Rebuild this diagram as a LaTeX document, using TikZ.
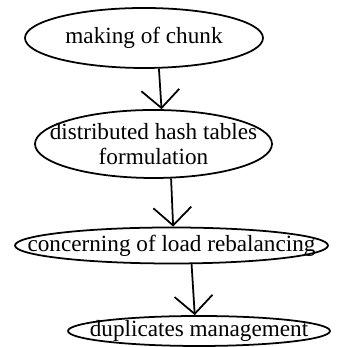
\documentclass[tikz,border=0pt]{standalone}
\usepackage{fontspec}
\setmainfont{Liberation Serif}
\usetikzlibrary{arrows.meta,shapes.geometric}

\begin{document}
\begin{tikzpicture}[every node/.style={align=center, font=\fontsize{13.2}{14}\selectfont}]
\tikzset{
  phase/.style={draw, ellipse, line width=1pt, inner xsep=-2cm, inner ysep=-1cm},
  flow/.style={line width=1pt, -{Straight Barb[length=0.36cm, width=0.76cm, line width=1pt]}}
}
\useasboundingbox (0,0) rectangle (6.98,6.94);
\node[phase, minimum width=4.76cm, minimum height=1.2cm] (chunk) at (2.88,6.18) {making of chunk};
\node[phase, minimum width=4.74cm, minimum height=1.36cm] (dht) at (3.07,4.06) {distributed hash tables\\formulation};
\node[phase, minimum width=6.26cm, minimum height=0.72cm] (load) at (3.43,2.03) {concerning of load rebalancing};
\node[phase, minimum width=5.24cm, minimum height=0.6cm] (dup) at (3.98,0.32) {duplicates management};
\draw[flow] (chunk.-64) -- (dht.77);
\draw[flow] (dht.-63) -- (load.85);
\draw[flow] (load.-43) -- (dup.105);
\end{tikzpicture}
\end{document}
